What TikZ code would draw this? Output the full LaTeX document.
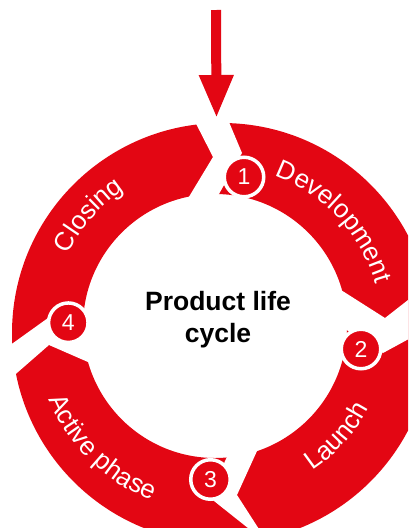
\documentclass[tikz,border=0pt]{standalone}
\usepackage{fontspec}
\setmainfont{Liberation Sans}
\usetikzlibrary{arrows.meta,decorations.text,calc}
\definecolor{cred}{RGB}{227,6,19}
\newcommand\lblfont{\fontsize{26}{26}\selectfont}
\tikzset{
  numcirc/.style={circle, fill=cred, draw=white, line width=3.5pt, minimum size=39.5pt, inner sep=0pt, text=white, font=\fontsize{23}{23}\selectfont},
  gapfill/.style={fill=white, draw=none},
  ringlabel/.style={decorate, decoration={text along path, text color=white, text align=center}},
  titlefont/.style={font=\bfseries\fontsize{26.5}{26.5}\selectfont, anchor=base, inner sep=0pt},
}
\begin{document}
\begin{tikzpicture}[x=1pt,y=1pt]
\useasboundingbox (0,0) rectangle (408,-528);
\clip (0,0) rectangle (408,-528);
\coordinate (oc) at (222,-333);
\coordinate (ic) at (215,-326);
\coordinate (tc) at (218.5,-329.5);
% ring
\fill[cred, even odd rule] (oc) circle (210pt) (ic) circle (132pt);
% gaps between the arrow segments
\path[gapfill] (186,-104) -- (213,-157) -- (181,-210) -- (210,-210) -- (242,-153) -- (221,-103) -- cycle;
\path[gapfill] (330,-283) -- (385,-318) -- (440,-275) -- (440,-322) -- (383,-353) -- (326,-317) -- cycle;
\path[gapfill] (262,-440) -- (237,-495) -- (266,-540) -- (263,-540) -- (209,-497) -- (234,-441) -- cycle;
\path[gapfill] (100,-341) -- (48,-318) -- (-5,-356) -- (2,-386) -- (49,-345) -- (104,-369) -- cycle;
% labels along the ring
\path[ringlabel, decoration={text={|\lblfont|Development}}] ($(tc)+(80:163.5pt)$) arc[start angle=80, end angle=6, radius=163.5pt];
\path[ringlabel, decoration={text={|\lblfont|Launch}}] ($(tc)+(-79:169.5pt)$) arc[start angle=-79, end angle=-5, radius=169.5pt];
\path[ringlabel, decoration={text={|\lblfont|Active phase}}] ($(tc)+(188.5:183.5pt)$) arc[start angle=188.5, end angle=262.5, radius=183.5pt];
\path[ringlabel, decoration={text={|\lblfont|Closing}}] ($(tc)+(175.7:168.5pt)$) arc[start angle=175.7, end angle=101.7, radius=168.5pt];
% number badges
\node[numcirc] (n1) at (244,-177) {1};
\node[numcirc] (n2) at (361,-349) {2};
\node[numcirc] (n3) at (210.5,-479.5) {3};
\node[numcirc] (n4) at (68.3,-322.7) {4};
% title
\node[titlefont] (t1) at (218,-310) {Product life};
\node[titlefont] (t2) at (218,-342) {cycle};
% entry arrow
\coordinate (atop) at (216,-10);
\coordinate (atip) at (216.5,-118);
\draw[cred, line width=10pt, -{Triangle[width=32pt,length=43pt]}] (atop) -- (atip);
\end{tikzpicture}
\end{document}
